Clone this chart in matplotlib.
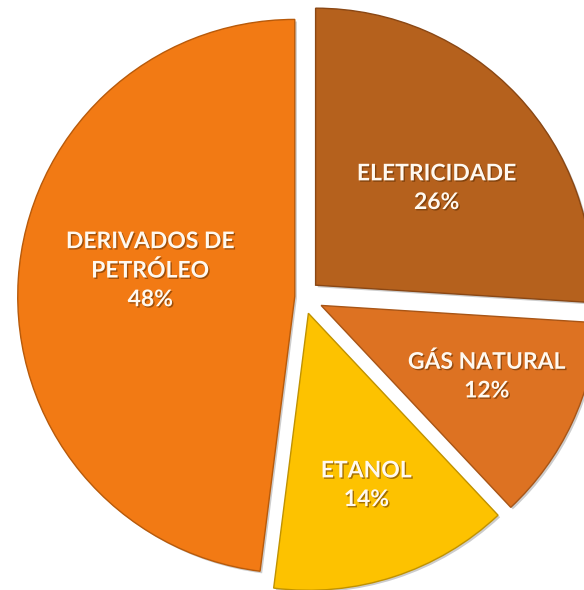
import matplotlib
matplotlib.use("Agg")
import matplotlib.pyplot as plt
import matplotlib.patheffects as pe
import numpy as np

# dados (matriz energetica - transportes)
categorias = ["ELETRICIDADE", "GÁS NATURAL", "ETANOL", "DERIVADOS DE\nPETRÓLEO"]
percentuais = [26, 12, 14, 48]
cores = ["#B5611D", "#DD7222", "#FDC200", "#F27A14"]
bordas = ["#8A4714", "#A85516", "#C09200", "#B85A0A"]

# estilo
explode = [0.062, 0.072, 0.062, 0.03]
dist_rotulo = [0.56, 0.65, 0.655, 0.53]
desvio_ang = [-4.5, 2.0, 0.6, -6.5]

fig = plt.figure(figsize=(5.84, 5.90), dpi=100)
ax = fig.add_axes([0, 0, 1, 1])

wedges, _ = ax.pie(
    percentuais,
    colors=cores,
    explode=explode,
    startangle=90,
    counterclock=False,
    radius=1.0,
    wedgeprops=dict(linewidth=1.0),
)

for w, ec in zip(wedges, bordas):
    w.set_edgecolor(ec)
    w.set_path_effects([
        pe.SimplePatchShadow(offset=(1.5, -1.5), shadow_rgbFace="#000000", alpha=0.2),
        pe.Normal(),
    ])

for w, nome, pct, d, da in zip(wedges, categorias, percentuais, dist_rotulo, desvio_ang):
    ang = np.deg2rad((w.theta1 + w.theta2) / 2 + da)
    cx, cy = w.center
    x = cx + d * w.r * np.cos(ang)
    y = cy + d * w.r * np.sin(ang)
    ax.text(
        x, y, f"{nome}\n{pct}%",
        ha="center", va="center",
        fontsize=16.5, fontweight="bold", family=["Lato", "DejaVu Sans"],
        color="#FFF9F0", linespacing=1.45,
        path_effects=[
            pe.withSimplePatchShadow(offset=(1, -1), shadow_rgbFace="#5A2A00", alpha=0.55),
        ],
    )

ax.set_aspect("auto")
ax.set_xlim(-1.094, 1.014)
ax.set_ylim(-1.058, 1.072)
ax.axis("off")

fig.savefig("out.png", dpi=100, facecolor="white")
